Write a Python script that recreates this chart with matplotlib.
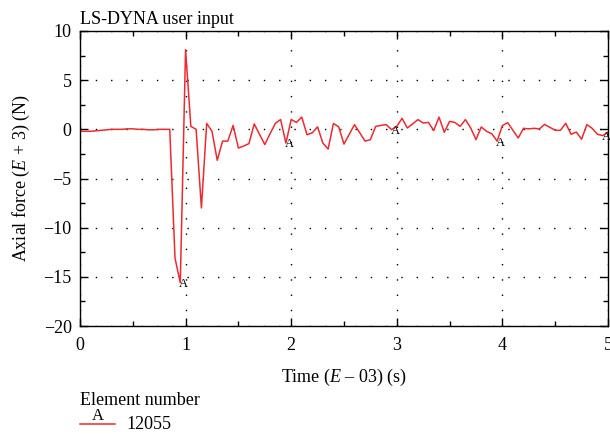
import matplotlib.pyplot as plt
from matplotlib.lines import Line2D
from matplotlib.ticker import MultipleLocator
from matplotlib.transforms import offset_copy
import numpy as np

plt.rcParams['font.family'] = ['Liberation Serif', 'DejaVu Serif']
plt.rcParams['mathtext.fontset'] = 'custom'
plt.rcParams['mathtext.rm'] = 'Liberation Serif'
plt.rcParams['mathtext.it'] = 'Liberation Serif:italic'

# time history, E-03 s, sampled every 0.05
time = np.arange(101) * 0.05
force = [
    -0.2, -0.2, -0.2, -0.15, -0.1, -0.05, 0.0, 0.0, 0.0, 0.05,
    0.05, 0.0, 0.0, -0.05, -0.05, 0.0, 0.0, 0.0, -13.1, -15.6,
    8.1, 0.3, 0.0, -8.0, 0.6, -0.2, -3.15, -1.2, -1.2, 0.4,
    -1.9, -1.7, -1.45, 0.55, -0.5, -1.55, -0.45, 0.6, 1.0, -1.4,
    1.0, 0.7, 1.25, -0.55, -0.35, 0.25, -1.4, -2.0, 0.6, 0.25,
    -1.5, -0.5, 0.48, -0.36, -1.2, -1.05, 0.3, 0.4, 0.48, -0.03,
    0.3, 1.12, 0.14, 0.55, 0.99, 0.65, 0.7, -0.12, 1.24, -0.3,
    0.81, 0.7, 0.3, 0.99, 0.14, -1.05, 0.24, -0.2, -0.45, -1.2,
    0.38, 0.68, -0.1, -0.88, 0.1, 0.05, 0.1, 0.04, 0.5, 0.2,
    -0.1, -0.1, 0.62, -0.5, -0.28, -1.0, 0.48, 0.1, -0.5, -0.64,
    -0.3,
]
label_every = 20
label_start = 19
element_id = '12055'

fig = plt.figure(figsize=(6.1, 4.34), dpi=100)
ax = fig.add_axes([0.1311, 0.2488, 0.8656, 0.6798])

red = '#ee2a2f'
ax.plot(time, force, color=red, lw=1.1)
# curve label symbols, nudged a little right of the sample
lab_tr = offset_copy(ax.transData, fig=fig, x=2.5, y=-1, units='points')
for i in range(label_start, len(time), label_every):
    ax.text(time[i], force[i], 'A', ha='center', va='center', fontsize=9,
            transform=lab_tr)

ax.set_xlim(0, 5)
ax.set_ylim(-20, 10)
ax.xaxis.set_major_locator(MultipleLocator(1))
ax.xaxis.set_minor_locator(MultipleLocator(0.5))
ax.yaxis.set_major_locator(MultipleLocator(5))
ax.yaxis.set_minor_locator(MultipleLocator(2.5))
ax.tick_params(which='both', direction='in', top=True, right=True,
               labelsize=13, width=1)
ax.tick_params(which='major', length=6, pad=6)
ax.tick_params(axis='x', which='major', pad=8)
ax.tick_params(which='minor', length=3.5)
ax.grid(True, which='major', color='black', ls=(0, (1, 10)), lw=1)
for s in ax.spines.values():
    s.set_linewidth(1)

ax.set_xlabel('Time ($\\it{E}$ \u2013 03) (s)', fontsize=13, labelpad=9)
ax.set_ylabel('Axial force ($\\it{E}$ + 3) (N)', fontsize=13, labelpad=8)
ax.set_title('LS-DYNA user input', loc='left', fontsize=13, pad=5)

# element legend below the plot
fig.text(0.131, 0.057, 'Element number', fontsize=13, va='bottom')
fig.add_artist(Line2D([0.131, 0.189], [0.022, 0.022], color=red, lw=1.1))
fig.text(0.160, 0.022, 'A', fontsize=12, ha='center', va='bottom')
fig.text(0.208, 0.003, element_id, fontsize=13, va='bottom')

fig.savefig('out.png', dpi=100)
